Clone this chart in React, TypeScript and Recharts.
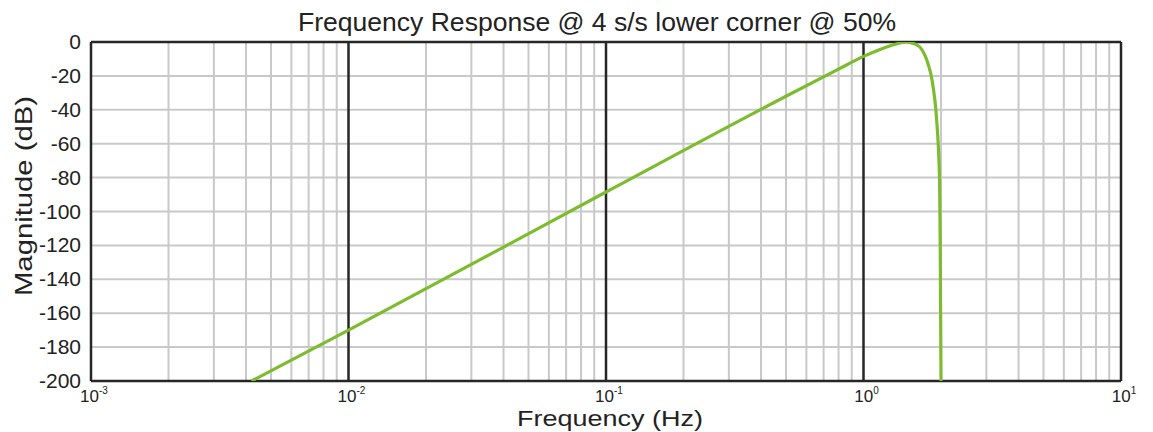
import React from 'react';
import { LineChart, Line, XAxis, YAxis, ReferenceLine } from 'recharts';

// (log-frequency, dB)
const freqHz = [0.0042, 0.01, 0.1, 0.5, 0.8, 1, 1.2, 1.35, 1.46, 1.55, 1.65, 1.7, 1.75, 1.79, 1.83, 1.87, 1.91, 1.93, 1.95, 1.965, 1.976, 1.986, 2.0];
const magnitudeDb = [-200, -170, -88.5, -32, -16, -8.5, -3.5, -1, 0, -0.7, -2.8, -5.5, -9.5, -14, -19.5, -28, -40, -49, -60, -71, -85, -120, -200];

const decadeTicks = [0.001, 0.01, 0.1, 1, 10];
const decadeExponents = ['-3', '-2', '-1', '0', '1'];
const minorMultipliers = [2, 3, 4, 5, 6, 7, 8, 9];
const dbTicks = [0, -20, -40, -60, -80, -100, -120, -140, -160, -180, -200];

const data = freqHz.map((f, i) => ({ f, db: magnitudeDb[i] }));
const minorTicks = decadeTicks.slice(0, 4).flatMap((d) => minorMultipliers.map((m) => m * d));

const FONT = '"Liberation Sans", Arial, Helvetica, sans-serif';
const GREEN = '#7dbb2f';
const GRID = '#c9c9c9';
const DARK = '#262626';

function PowerTick(props: any) {
  const { x, y, payload } = props;
  const idx = decadeTicks.indexOf(payload.value);
  return (
    <text x={x + 3} y={y + 13} textAnchor="middle" fontFamily={FONT} fill="#222">
      <tspan fontSize={17}>10</tspan>
      <tspan fontSize={10} dy={-8}>{decadeExponents[idx]}</tspan>
    </text>
  );
}

function DbTick(props: any) {
  const { x, y, payload } = props;
  return (
    <text x={x - 2} y={y + 7} textAnchor="end" fontFamily={FONT} fontSize={21} fill="#222">
      {payload.value}
    </text>
  );
}

export default function App() {
  return (
    <div style={{ position: 'absolute', left: 0, top: 0, width: 1153, height: 432, background: '#fff' }}>
      <LineChart width={1153} height={432} data={data} margin={{ top: 42, right: 32, bottom: 0, left: 0 }}>
        <XAxis
          dataKey="f"
          type="number"
          scale="log"
          domain={[0.001, 10]}
          ticks={decadeTicks}
          allowDataOverflow
          axisLine={false}
          tickLine={false}
          tick={<PowerTick />}
          height={51}
        />
        <YAxis
          type="number"
          domain={[-200, 0]}
          ticks={dbTicks}
          allowDataOverflow
          axisLine={false}
          tickLine={false}
          tick={<DbTick />}
          width={91}
        />
        {dbTicks.map((v) => (
          <ReferenceLine key={'h' + v} y={v} stroke={GRID} strokeWidth={2} />
        ))}
        {minorTicks.map((v) => (
          <ReferenceLine key={'m' + v} x={v} stroke={GRID} strokeWidth={2} />
        ))}
        {decadeTicks.map((v) => (
          <ReferenceLine key={'d' + v} x={v} stroke={DARK} strokeWidth={2.5} />
        ))}
        <ReferenceLine y={0} stroke={DARK} strokeWidth={2.5} />
        <ReferenceLine y={-200} stroke={DARK} strokeWidth={2.5} />
        <Line
          type="monotone"
          dataKey="db"
          stroke={GREEN}
          strokeWidth={3.2}
          dot={false}
          isAnimationActive={false}
        />
        <text x={597} y={31} textAnchor="middle" fontFamily={FONT} fontSize={25} fill="#222" textLength={598} lengthAdjust="spacingAndGlyphs">
          Frequency Response @ 4 s/s lower corner @ 50%
        </text>
        <text x={610} y={426} textAnchor="middle" fontFamily={FONT} fontSize={22} fill="#222" textLength={186} lengthAdjust="spacingAndGlyphs">
          Frequency (Hz)
        </text>
        <text
          x={0}
          y={0}
          transform="translate(32,196) rotate(-90)"
          textAnchor="middle"
          fontFamily={FONT}
          fontSize={24}
          fill="#222"
          textLength={200}
          lengthAdjust="spacingAndGlyphs"
        >
          Magnitude (dB)
        </text>
      </LineChart>
    </div>
  );
}
